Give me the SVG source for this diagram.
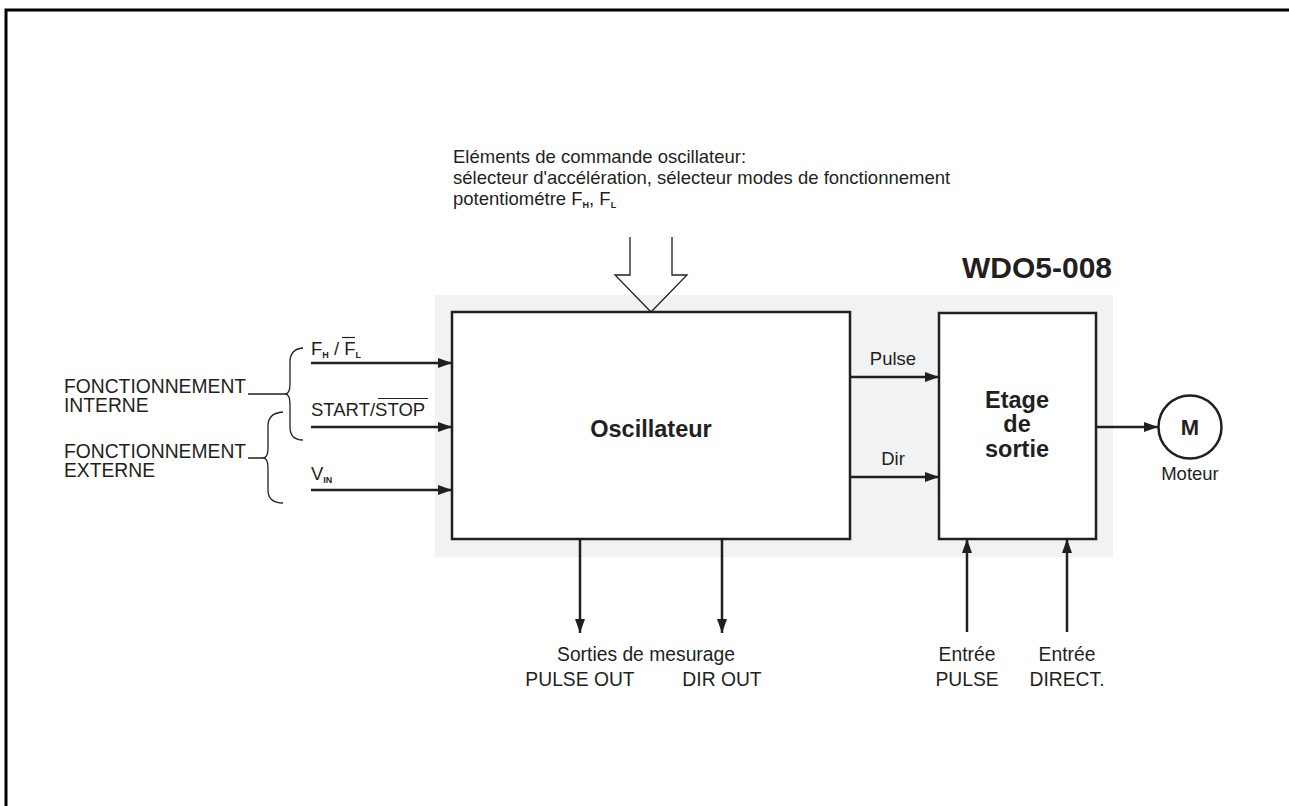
<svg xmlns="http://www.w3.org/2000/svg" width="1289" height="806" viewBox="0 0 1289 806">
<style>
text{font-family:"Liberation Sans",Arial,sans-serif;fill:#231f20;font-size:18.5px}
.b{font-weight:bold}
.l{font-size:19.3px}
.box{fill:#fff;stroke:#231f20;stroke-width:2.5}
.ln{stroke:#231f20;stroke-width:2.5;fill:none}
.th{stroke:#231f20;stroke-width:1.3;fill:none}
.sub{font-size:9px;font-weight:bold}
</style>
<defs>
<marker id="ah" markerWidth="14" markerHeight="10" refX="14" refY="5" orient="auto" markerUnits="userSpaceOnUse">
<path d="M0,0 L14,5 L0,10 Z" fill="#231f20"/>
</marker>
</defs>
<rect width="1289" height="806" fill="#fff"/>
<path d="M6,806 L6,10 L1289,10" stroke="#000" stroke-width="3" fill="none"/>
<rect id="bg" x="435" y="295" width="678" height="262" fill="#f1f2f4"/>
<text x="1112" y="278" class="b" text-anchor="end" style="font-size:30px">WDO5-008</text>

<g id="controls">
<text x="453" y="163">Eléments de commande oscillateur:</text>
<text x="453" y="184">sélecteur d'accélération, sélecteur modes de fonctionnement</text>
<text x="453" y="205">potentiométre F<tspan class="sub" dy="3">H</tspan><tspan dy="-3">, F</tspan><tspan class="sub" dy="3">L</tspan></text>
<path class="th" d="M630,237 L630,275 L615,275 L651,312 L687,275 L672,275 L672,237"/>
</g>

<g id="oscillateur">
<rect class="box" x="452" y="312" width="398" height="227"/>
<text x="651" y="437" class="b" text-anchor="middle" style="font-size:23.5px">Oscillateur</text>
</g>

<g id="etage">
<rect class="box" x="939" y="313" width="157" height="226"/>
<text x="1017" y="408" class="b" text-anchor="middle" style="font-size:23.5px">Etage</text>
<text x="1017" y="432" class="b" text-anchor="middle" style="font-size:23.5px">de</text>
<text x="1017" y="457" class="b" text-anchor="middle" style="font-size:23.5px">sortie</text>
</g>

<g id="moteur">
<circle cx="1190" cy="427" r="31.5" fill="#fff" stroke="#231f20" stroke-width="2.5"/>
<text x="1190" y="435" class="b" text-anchor="middle" style="font-size:22px">M</text>
<text x="1190" y="480" text-anchor="middle" style="font-size:18.5px">Moteur</text>
</g>

<g id="modes">
<text x="64" y="393" class="l">FONCTIONNEMENT</text>
<text x="64" y="412" class="l">INTERNE</text>
<text x="64" y="458" class="l">FONCTIONNEMENT</text>
<text x="64" y="477" class="l">EXTERNE</text>
<path class="th" d="M248,394 L285,394 M303,348 Q290,349 290,362 L290,384 Q290,394 285,394 Q290,394 290,404 L290,427 Q290,440 303,440"/>
<path class="th" d="M248,458 L263,458 M283,412 Q268,413 268,426 L268,448 Q268,458 263,458 Q268,458 268,468 L268,490 Q268,503 283,503"/>
</g>

<g id="labels">
<text x="311" y="355">F<tspan class="sub" dy="3">H</tspan><tspan dy="-3"> / F</tspan><tspan class="sub" dy="3">L</tspan></text>
<line x1="342" y1="337.5" x2="355" y2="337.5" stroke="#231f20" stroke-width="1.2"/>
<text x="311" y="416">START/STOP</text>
<line x1="378" y1="398.5" x2="428" y2="398.5" stroke="#231f20" stroke-width="1.2"/>
<text x="311" y="480">V<tspan class="sub" dy="3">IN</tspan></text>
<text x="893" y="365" text-anchor="middle">Pulse</text>
<text x="893" y="465" text-anchor="middle">Dir</text>
<text x="646" y="661" class="l" text-anchor="middle">Sorties de mesurage</text>
<text x="580" y="686" class="l" text-anchor="middle">PULSE OUT</text>
<text x="722" y="686" class="l" text-anchor="middle">DIR OUT</text>
<text x="967" y="661" class="l" text-anchor="middle">Entrée</text>
<text x="967" y="686" class="l" text-anchor="middle">PULSE</text>
<text x="1067" y="661" class="l" text-anchor="middle">Entrée</text>
<text x="1067" y="686" class="l" text-anchor="middle">DIRECT.</text>
</g>

<g id="connectors">
<line class="ln" x1="311" y1="363" x2="452" y2="363" marker-end="url(#ah)"/>
<line class="ln" x1="311" y1="427" x2="452" y2="427" marker-end="url(#ah)"/>
<line class="ln" x1="311" y1="490" x2="452" y2="490" marker-end="url(#ah)"/>
<line class="ln" x1="850" y1="377" x2="939" y2="377" marker-end="url(#ah)"/>
<line class="ln" x1="850" y1="477" x2="939" y2="477" marker-end="url(#ah)"/>
<line class="ln" x1="1096" y1="427" x2="1158" y2="427" marker-end="url(#ah)"/>
<line class="ln" x1="580" y1="539" x2="580" y2="633" marker-end="url(#ah)"/>
<line class="ln" x1="722" y1="539" x2="722" y2="633" marker-end="url(#ah)"/>
<line class="ln" x1="967" y1="632" x2="967" y2="539" marker-end="url(#ah)"/>
<line class="ln" x1="1067" y1="632" x2="1067" y2="539" marker-end="url(#ah)"/>
</g>
</svg>
